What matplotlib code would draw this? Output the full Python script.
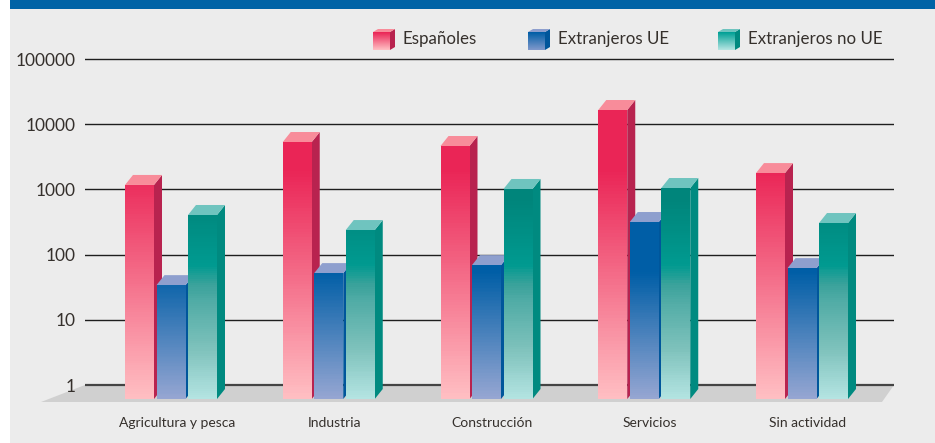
import numpy as np
import matplotlib
matplotlib.use('Agg')
import matplotlib.pyplot as plt
from matplotlib.colors import LinearSegmentedColormap, LogNorm
from matplotlib.patches import Polygon, Rectangle

plt.rcParams['font.family'] = ['Lato', 'DejaVu Sans']

categories = ['Agricultura y pesca', 'Industria', 'Construcción', 'Servicios', 'Sin actividad']
series_names = ['Españoles', 'Extranjeros UE', 'Extranjeros no UE']
espanoles = [1170, 5330, 4630, 16500, 1780]
extranjeros_ue = [34, 52, 69, 316, 62]
extranjeros_no_ue = [405, 238, 1015, 1050, 305]
y_ticks = [1, 10, 100, 1000, 10000, 100000]
y_labels = ['1', '10', '100', '1000', '10000', '100000']

W, H = 935, 443
DECADE = 65.2   # px per decade of the log axis
Y_ONE = 385     # px of the value 1 line
Y_FLOOR = 399   # px of the front bottom of the bars
GROUP_STEP = 157.75
DX, DY = 8, 10  # depth of the bars in px


def y_val(py):
    return 10 ** ((Y_ONE - py) / DECADE)


floor_val = y_val(Y_FLOOR)
# stops are given in px height on the picture, gradient is the same for all bars
grad_specs = [
    {'stops': [(110, '#EA2556'), (170, '#EA2556'), (399, '#FFBFC3')], 'side': '#B8234F', 'top': '#F88C9A'},
    {'stops': [(110, '#005EA6'), (272, '#005EA6'), (399, '#96A6D2')], 'side': '#00569B', 'top': '#8E9FCE'},
    {'stops': [(110, '#00837A'), (200, '#00857B'), (265, '#009A90'), (285, '#3AA29B'), (300, '#4FABA5'),
               (350, '#7FC2BC'), (399, '#B4E4E2')], 'side': '#008A80', 'top': '#6FC4BF'},
]


def make_cmap(stops):
    pos = [(Y_FLOOR - p) / (Y_FLOOR - 110) for p, c in stops][::-1]
    cols = [c for p, c in stops][::-1]
    return LinearSegmentedColormap.from_list('g', list(zip(pos, cols)), N=256)


fig = plt.figure(figsize=(W / 100, H / 100), dpi=100, facecolor='white')

# background layer in pixel coordinates
bg = fig.add_axes([0, 0, 1, 1], zorder=0)
bg.set_xlim(0, W)
bg.set_ylim(H, 0)
bg.axis('off')
bg.add_patch(Rectangle((10, 0), W - 10, H, color='#ECECEC', lw=0))
bg.add_patch(Rectangle((10, 0), W - 10, 9, color='#0063A6', lw=0))
bg.add_patch(Polygon([(41, 402), (85, 385), (894, 385), (882, 402)], color='#D0D0D0', lw=0))

# main axes, x 85..894 px
ax = fig.add_axes([85 / W, 1 - Y_FLOOR / H, (894 - 85) / W, (Y_FLOOR - 55) / H], zorder=1)
ax.patch.set_alpha(0)
ax.set_yscale('log')
ax.set_ylim(floor_val, y_val(55))
x0 = (85 - 171) / GROUP_STEP
x1 = (894 - 171) / GROUP_STEP
ax.set_xlim(x0, x1)
px = (x1 - x0) / (894 - 85)  # data x per px

for s in ax.spines.values():
    s.set_visible(False)
ax.set_yticks(y_ticks)
ax.set_yticklabels(y_labels, fontsize=12.5, color='#35302C')
ax.minorticks_off()
ax.tick_params(axis='y', length=0, pad=6.5)
ax.set_xticks(np.arange(len(categories)) + 6 * px)
ax.set_xticklabels(categories, fontsize=10, color='#35302C')
ax.tick_params(axis='x', length=0, pad=13)
ax.yaxis.grid(True, color='#1E1E1E', lw=1.0, zorder=1)
ax.xaxis.grid(False)
ax.set_axisbelow(True)
ax.get_ygridlines()[0].set_linewidth(1.6)
ax.get_ygridlines()[0].set_color('#444444')

bar_w = 29 * px
offsets = np.array([-46, -14.5, 17]) * px
up = 10 ** (DY / DECADE)
for k, vals in enumerate([espanoles, extranjeros_ue, extranjeros_no_ue]):
    spec = grad_specs[k]
    cmap = make_cmap(spec['stops'])
    norm = LogNorm(vmin=floor_val, vmax=y_val(110))
    for i, v in enumerate(vals):
        xl = i + offsets[k]
        xr = xl + bar_w
        # side and top faces, drawn in data coordinates with depth offset
        z = 3 + k + i * 0.01
        ax.add_patch(Polygon([(xr, floor_val), (xr + DX * px, floor_val * up), (xr + DX * px, v * up), (xr, v)],
                             closed=True, color=spec['side'], lw=0, zorder=z, clip_on=False))
        ax.add_patch(Polygon([(xl, v), (xl + DX * px, v * up), (xr + DX * px, v * up), (xr, v)],
                             closed=True, color=spec['top'], lw=0, zorder=z, clip_on=False))
        edges = np.geomspace(floor_val, v, 90)
        mids = np.sqrt(edges[:-1] * edges[1:]).reshape(-1, 1)
        ax.pcolormesh([xl, xr], edges, mids, cmap=cmap, norm=norm, zorder=z + 0.1,
                      shading='flat', antialiased=False, rasterized=True)

# legend, little cubes in pixel coordinates
leg = fig.add_axes([0, 0, 1, 1], zorder=2)
leg.set_xlim(0, W)
leg.set_ylim(H, 0)
leg.axis('off')
leg.patch.set_alpha(0)
leg_x = [373, 528, 718]
txt_x = [402, 558, 748]
leg_stops = [['#EA2556', '#FFBFC3'], ['#005EA6', '#7F98CB'], ['#00A095', '#B4E4E2']]
for k, name in enumerate(series_names):
    xa = leg_x[k]
    spec = grad_specs[k]
    leg.add_patch(Polygon([(xa + 17, 32), (xa + 22, 29), (xa + 22, 47), (xa + 17, 50)], color=spec['side'], lw=0))
    leg.add_patch(Polygon([(xa, 32), (xa + 5, 29), (xa + 22, 29), (xa + 17, 32)], color=spec['top'], lw=0))
    cm = LinearSegmentedColormap.from_list('l', leg_stops[k])
    leg.imshow(np.linspace(0, 1, 32).reshape(-1, 1), cmap=cm, extent=(xa, xa + 17, 50, 32), aspect='auto', zorder=3)
    leg.text(txt_x[k], 39, name, fontsize=12.2, color='#35302C', va='center', ha='left')
leg.set_xlim(0, W)
leg.set_ylim(H, 0)

fig.savefig('out.png', dpi=100)
